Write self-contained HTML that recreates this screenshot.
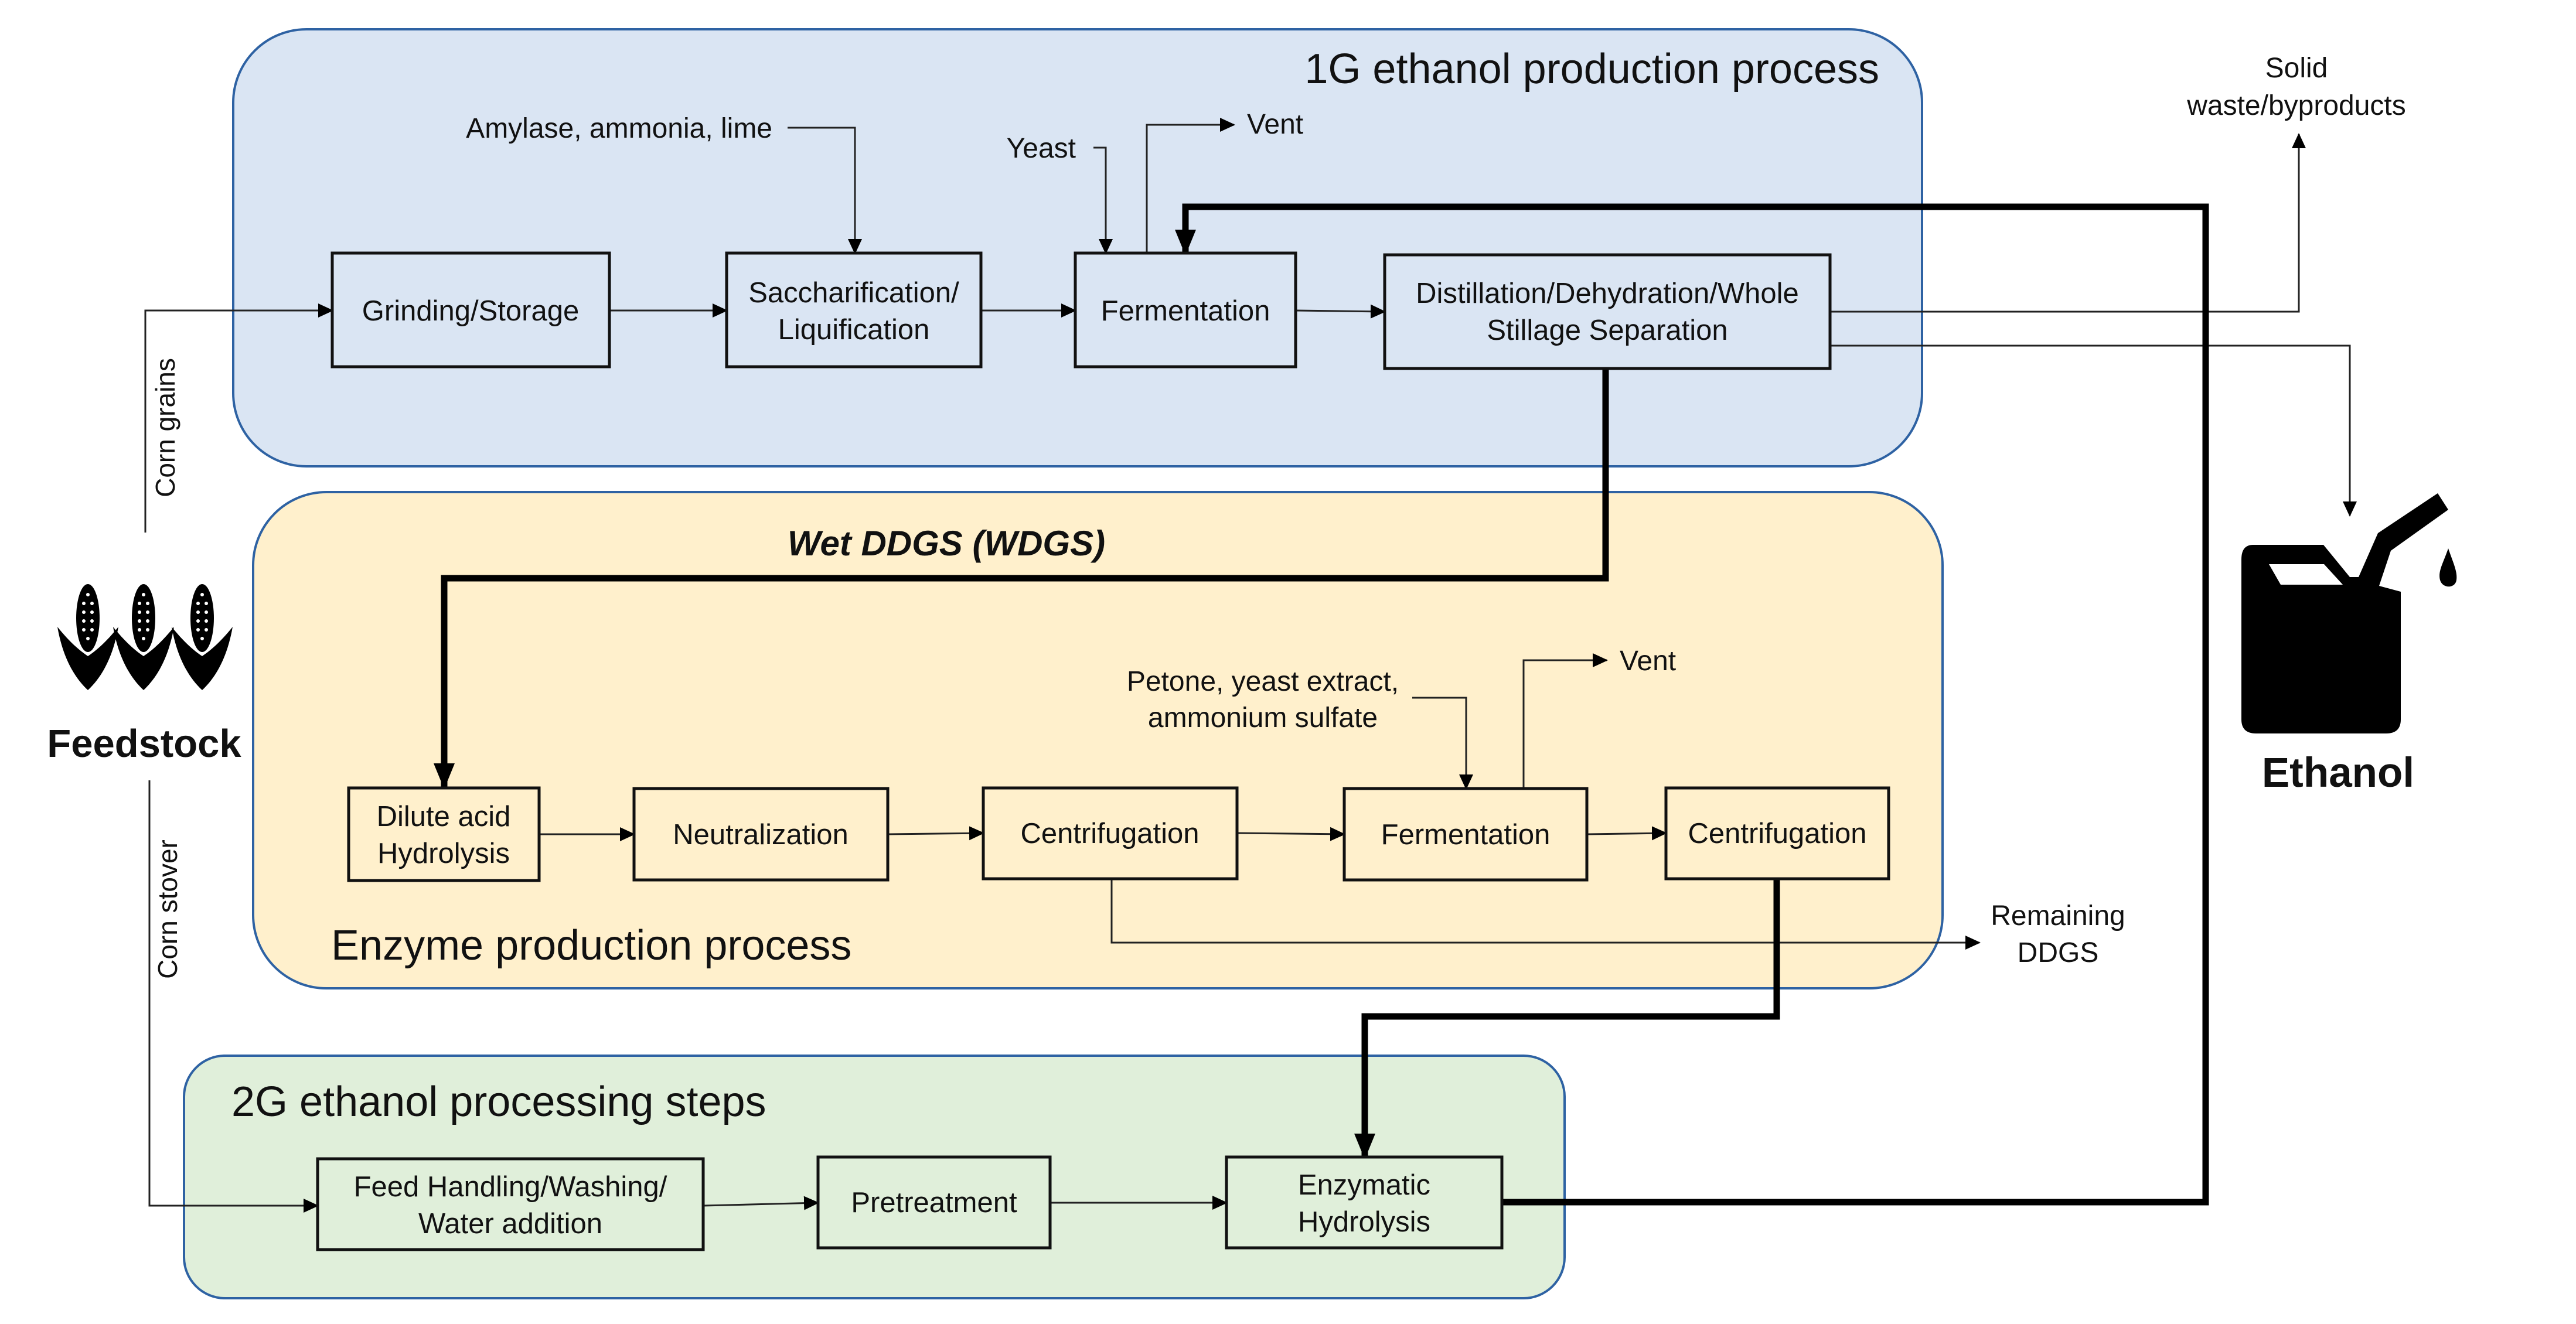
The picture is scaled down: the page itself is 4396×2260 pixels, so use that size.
<!DOCTYPE html>
<html><head><meta charset="utf-8"><style>
html,body{margin:0;padding:0;background:#fff}
svg{display:block}
text{font-family:"Liberation Sans",sans-serif;fill:#111}
</style></head><body>
<svg width="4396" height="2260" viewBox="0 0 4396 2260" xmlns="http://www.w3.org/2000/svg">
<defs>
<marker id="a" markerUnits="userSpaceOnUse" markerWidth="26" markerHeight="24" refX="24" refY="12" orient="auto"><path d="M0,0 L26,12 L0,24 z" fill="#000"/></marker>
<marker id="A" markerUnits="userSpaceOnUse" markerWidth="44" markerHeight="36" refX="40" refY="18" orient="auto"><path d="M0,0 L44,18 L0,36 z" fill="#000"/></marker>
</defs>
<rect x="398" y="50" width="2882" height="746" rx="125" fill="#dae5f3" stroke="#2e62a3" stroke-width="4"/>
<rect x="432" y="840" width="2883" height="847" rx="125" fill="#fff0cc" stroke="#2e62a3" stroke-width="4"/>
<rect x="314" y="1802" width="2356" height="414" rx="70" fill="#e0efda" stroke="#2e62a3" stroke-width="4"/>

<text x="3207" y="142" font-size="72" text-anchor="end">1G ethanol production process</text>
<text x="565" y="1638" font-size="72">Enzyme production process</text>
<text x="395" y="1905" font-size="72">2G ethanol processing steps</text>

<g stroke="#222" stroke-width="3" fill="none">
<path d="M248,909 V530 H567" marker-end="url(#a)"/>
<path d="M1040,530 H1240" marker-end="url(#a)"/>
<path d="M1674,530 H1835" marker-end="url(#a)"/>
<path d="M2211,530 L2363,532" marker-end="url(#a)"/>
<path d="M1344,218 H1459 V432" marker-end="url(#a)"/>
<path d="M1866,252 H1887 V432" marker-end="url(#a)"/>
<path d="M1957,432 V213 H2106" marker-end="url(#a)"/>
<path d="M3123,532 H3923 V229" marker-end="url(#a)"/>
<path d="M3123,590 H4010 V880" marker-end="url(#a)"/>
<path d="M920,1424 H1082" marker-end="url(#a)"/>
<path d="M1515,1424 L1678,1422" marker-end="url(#a)"/>
<path d="M2111,1422 L2294,1424" marker-end="url(#a)"/>
<path d="M2708,1424 L2843,1422" marker-end="url(#a)"/>
<path d="M2410,1191 H2502 V1346" marker-end="url(#a)"/>
<path d="M2600,1346 V1127 H2742" marker-end="url(#a)"/>
<path d="M1897,1500 V1609 H3378" marker-end="url(#a)"/>
<path d="M255,1332 V2058 H542" marker-end="url(#a)"/>
<path d="M1200,2058 L1396,2053" marker-end="url(#a)"/>
<path d="M1792,2053 H2093" marker-end="url(#a)"/>
</g>

<g stroke="#000" stroke-width="11" fill="none">
<path d="M2740,629 V987 H758 V1343" marker-end="url(#A)"/>
<path d="M3032,1500 V1735 H2329 V1975" marker-end="url(#A)"/>
<path d="M2563,2052 H3764 V353 H2023 V432" marker-end="url(#A)"/>
</g>

<g stroke="#111" stroke-width="5">
<rect x="567" y="432" width="473" height="194" fill="#dae5f3"/>
<rect x="1240" y="432" width="434" height="194" fill="#dae5f3"/>
<rect x="1835" y="432" width="376" height="194" fill="#dae5f3"/>
<rect x="2363" y="435" width="760" height="194" fill="#dae5f3"/>
<rect x="595" y="1345" width="325" height="158" fill="#fff0cc"/>
<rect x="1082" y="1346" width="433" height="156" fill="#fff0cc"/>
<rect x="1678" y="1345" width="433" height="155" fill="#fff0cc"/>
<rect x="2294" y="1346" width="414" height="156" fill="#fff0cc"/>
<rect x="2843" y="1345" width="380" height="155" fill="#fff0cc"/>
<rect x="542" y="1978" width="658" height="155" fill="#e0efda"/>
<rect x="1396" y="1975" width="396" height="155" fill="#e0efda"/>
<rect x="2093" y="1975" width="470" height="155" fill="#e0efda"/>
</g>

<g font-size="49" text-anchor="middle">
<text x="803" y="547">Grinding/Storage</text>
<text x="1457" y="516">Saccharification/</text>
<text x="1457" y="579">Liquification</text>
<text x="2023" y="547">Fermentation</text>
<text x="2743" y="517">Distillation/Dehydration/Whole</text>
<text x="2743" y="580">Stillage Separation</text>
<text x="757" y="1410">Dilute acid</text>
<text x="757" y="1473">Hydrolysis</text>
<text x="1298" y="1441">Neutralization</text>
<text x="1894" y="1439">Centrifugation</text>
<text x="2501" y="1441">Fermentation</text>
<text x="3033" y="1439">Centrifugation</text>
<text x="871" y="2042">Feed Handling/Washing/</text>
<text x="871" y="2105">Water addition</text>
<text x="1594" y="2069">Pretreatment</text>
<text x="2328" y="2039">Enzymatic</text>
<text x="2328" y="2102">Hydrolysis</text>
</g>

<g font-size="48">
<text x="1318" y="235" text-anchor="end">Amylase, ammonia, lime</text>
<text x="1836" y="269" text-anchor="end">Yeast</text>
<text x="2128" y="228">Vent</text>
<text x="2764" y="1144">Vent</text>
<text x="2155" y="1179" text-anchor="middle">Petone, yeast extract,</text>
<text x="2155" y="1241" text-anchor="middle">ammonium sulfate</text>
<text x="3919" y="132" text-anchor="middle">Solid</text>
<text x="3919" y="196" text-anchor="middle">waste/byproducts</text>
<text x="3512" y="1579" text-anchor="middle">Remaining</text>
<text x="3512" y="1642" text-anchor="middle">DDGS</text>
</g>
<text x="1615" y="948" font-size="60" font-weight="bold" font-style="italic" text-anchor="middle">Wet DDGS (WDGS)</text>
<text transform="translate(298,730) rotate(-90)" font-size="46" text-anchor="middle">Corn grains</text>
<text transform="translate(302,1552) rotate(-90)" font-size="46" text-anchor="middle">Corn stover</text>
<text x="246" y="1292" font-size="67" font-weight="bold" text-anchor="middle">Feedstock</text>
<text x="3990" y="1343" font-size="71" font-weight="bold" text-anchor="middle">Ethanol</text>

<g fill="#000">
<g id="cob">
<ellipse cx="150" cy="1055" rx="20" ry="58"/>
<g fill="#fff">
<circle cx="143" cy="1030" r="3"/><circle cx="157" cy="1030" r="3"/>
<circle cx="143" cy="1045" r="3"/><circle cx="157" cy="1045" r="3"/>
<circle cx="143" cy="1060" r="3"/><circle cx="157" cy="1060" r="3"/>
<circle cx="143" cy="1075" r="3"/><circle cx="157" cy="1075" r="3"/>
<circle cx="150" cy="1015" r="3"/><circle cx="150" cy="1090" r="3"/>
</g>
<path d="M150,1178 C120,1150 105,1110 98,1070 C118,1095 135,1110 150,1120 C165,1110 182,1095 202,1070 C195,1110 180,1150 150,1178 z"/>
</g>
<use href="#cob" transform="translate(95,0)"/>
<use href="#cob" transform="translate(195,0)"/>
</g>

<g fill="#000">
<path d="M3845,930 H3965 L4010,985 H4025 L4058,910 L4160,842 L4178,870 L4080,940 L4060,1000 L4097,1010 V1228 Q4097,1252 4072,1252 H3850 Q3825,1252 3825,1228 V955 Q3825,930 3845,930 z"/>
<path d="M3872,963 H3966 L3998,998 H3892 z" fill="#fff"/>
<path d="M4178,936 C4170,960 4160,975 4164,990 C4168,1005 4190,1005 4192,990 C4194,975 4186,960 4178,936 z"/>
</g>
</svg>
</body></html>
